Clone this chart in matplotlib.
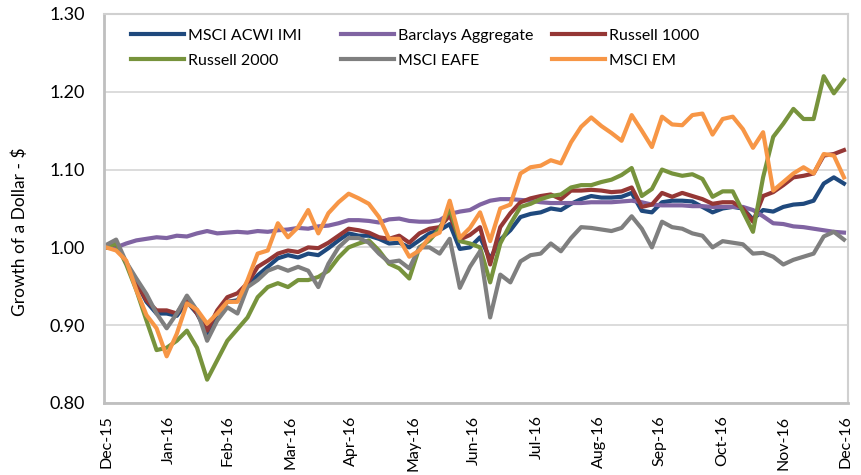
#Growth of a Dollar - indices 2016
import matplotlib
matplotlib.use('Agg')
import matplotlib.pyplot as plt
from matplotlib.legend import Legend
import numpy as np
import pandas as pd

plt.rcParams['font.family'] = ['Lato', 'DejaVu Sans']

#datas (a cada 5 dias, de 31/12/2015 a 30/12/2016)
datas = pd.date_range('2015-12-31', periods=74, freq='5D')

acwi_imi = [1.000, 1.005, 0.980, 0.955, 0.930, 0.915, 0.915, 0.912, 0.930, 0.915,
            0.890, 0.915, 0.930, 0.932, 0.950, 0.964, 0.975, 0.986, 0.990, 0.987,
            0.992, 0.990, 0.999, 1.009, 1.018, 1.015, 1.015, 1.011, 1.005, 1.006,
            1.000, 1.009, 1.018, 1.022, 1.030, 0.998, 1.000, 1.013, 0.985, 1.010,
            1.022, 1.039, 1.043, 1.045, 1.050, 1.048, 1.056, 1.062, 1.066, 1.064,
            1.064, 1.065, 1.070, 1.047, 1.045, 1.058, 1.060, 1.060, 1.059, 1.052,
            1.045, 1.050, 1.052, 1.050, 1.036, 1.048, 1.046, 1.052, 1.055, 1.056,
            1.060, 1.082, 1.090, 1.082]

barclays_agg = [1.000, 1.000, 1.005, 1.009, 1.011, 1.013, 1.012, 1.015, 1.014, 1.018,
                1.021, 1.018, 1.019, 1.020, 1.019, 1.021, 1.020, 1.022, 1.023, 1.025,
                1.024, 1.027, 1.028, 1.031, 1.035, 1.035, 1.034, 1.032, 1.036, 1.037,
                1.034, 1.033, 1.033, 1.035, 1.043, 1.046, 1.048, 1.055, 1.060, 1.062,
                1.062, 1.061, 1.060, 1.058, 1.057, 1.057, 1.057, 1.057, 1.058, 1.058,
                1.058, 1.059, 1.060, 1.058, 1.055, 1.054, 1.054, 1.054, 1.053, 1.053,
                1.052, 1.052, 1.052, 1.052, 1.048, 1.040, 1.031, 1.030, 1.027, 1.026,
                1.024, 1.022, 1.020, 1.019]

russell_1000 = [1.000, 1.005, 0.980, 0.955, 0.932, 0.919, 0.919, 0.915, 0.935, 0.915,
                0.893, 0.919, 0.936, 0.941, 0.954, 0.975, 0.983, 0.992, 0.996, 0.994,
                1.000, 0.999, 1.006, 1.015, 1.024, 1.022, 1.019, 1.013, 1.011, 1.015,
                1.006, 1.018, 1.024, 1.026, 1.041, 1.010, 1.016, 1.026, 0.978, 1.026,
                1.044, 1.058, 1.063, 1.066, 1.068, 1.062, 1.073, 1.073, 1.074, 1.073,
                1.071, 1.072, 1.077, 1.052, 1.055, 1.070, 1.065, 1.070, 1.066, 1.062,
                1.056, 1.058, 1.058, 1.050, 1.033, 1.066, 1.071, 1.080, 1.090, 1.092,
                1.095, 1.118, 1.120, 1.125]

russell_2000 = [1.000, 1.005, 0.978, 0.945, 0.906, 0.868, 0.871, 0.880, 0.893, 0.871,
                0.830, 0.855, 0.880, 0.895, 0.910, 0.936, 0.949, 0.954, 0.949, 0.958,
                0.958, 0.962, 0.970, 0.987, 1.000, 1.005, 1.009, 0.996, 0.979, 0.973,
                0.960, 1.000, 1.009, 1.024, 1.050, 1.008, 1.005, 1.000, 0.955, 1.005,
                1.030, 1.052, 1.056, 1.062, 1.066, 1.068, 1.077, 1.080, 1.080, 1.084,
                1.087, 1.093, 1.102, 1.066, 1.075, 1.100, 1.095, 1.092, 1.094, 1.088,
                1.065, 1.072, 1.072, 1.046, 1.020, 1.090, 1.142, 1.159, 1.178, 1.165,
                1.165, 1.220, 1.198, 1.215]

msci_eafe = [1.003, 1.010, 0.981, 0.960, 0.940, 0.915, 0.896, 0.915, 0.938, 0.919,
             0.880, 0.906, 0.923, 0.915, 0.949, 0.958, 0.970, 0.975, 0.970, 0.975,
             0.970, 0.949, 0.979, 1.000, 1.012, 1.012, 1.006, 0.992, 0.981, 0.983,
             0.973, 1.000, 1.000, 0.992, 1.011, 0.948, 0.975, 0.995, 0.910, 0.965,
             0.955, 0.982, 0.990, 0.992, 1.005, 0.995, 1.012, 1.026, 1.025, 1.023,
             1.021, 1.025, 1.040, 1.024, 1.000, 1.033, 1.026, 1.024, 1.018, 1.015,
             1.000, 1.008, 1.006, 1.004, 0.992, 0.993, 0.988, 0.978, 0.984, 0.988,
             0.992, 1.014, 1.020, 1.010]

msci_em = [1.000, 0.996, 0.983, 0.945, 0.913, 0.896, 0.860, 0.889, 0.928, 0.920,
           0.902, 0.915, 0.930, 0.930, 0.958, 0.992, 0.996, 1.031, 1.013, 1.026,
           1.048, 1.018, 1.044, 1.058, 1.069, 1.063, 1.056, 1.039, 1.011, 1.011,
           0.988, 0.996, 1.013, 1.019, 1.060, 1.012, 1.025, 1.045, 1.008, 1.050,
           1.055, 1.095, 1.103, 1.105, 1.112, 1.108, 1.135, 1.155, 1.167, 1.156,
           1.147, 1.137, 1.170, 1.150, 1.129, 1.168, 1.158, 1.157, 1.170, 1.172,
           1.145, 1.165, 1.168, 1.152, 1.128, 1.148, 1.073, 1.084, 1.095, 1.103,
           1.095, 1.120, 1.118, 1.090]

nomes = ['MSCI ACWI IMI', 'Barclays Aggregate', 'Russell 1000',
         'Russell 2000', 'MSCI EAFE', 'MSCI EM']
series = [acwi_imi, barclays_agg, russell_1000, russell_2000, msci_eafe, msci_em]
cores = ['#1F497D', '#8064A2', '#953735', '#77933C', '#7F7F7F', '#F79646']

fig = plt.figure(figsize=(8.61, 4.75), dpi=100)
ax = fig.add_axes([0.1208, 0.1516, 0.8641, 0.819])

linhas = []
for nome, vals, cor in zip(nomes, series, cores):
    l, = ax.plot(datas, vals, color=cor, lw=3, label=nome, solid_joinstyle='round')
    linhas.append(l)

#eixo y
ax.set_ylim(0.8, 1.3)
yt = np.arange(0.8, 1.31, 0.1)
ax.set_yticks(yt)
ax.set_yticklabels(['%.2f' % v for v in yt], fontsize=13)
ax.yaxis.grid(True, color='#D9D9D9', lw=1.3)
ax.set_axisbelow(True)
ax.set_ylabel('Growth of a Dollar - $', fontsize=12.5)
ax.yaxis.set_label_coords(-0.102, 0.44)

#eixo x - fim de cada mes
ax.set_xlim(pd.Timestamp('2015-12-30'), pd.Timestamp('2017-01-01'))
meses = pd.date_range('2015-12-31', periods=13, freq=pd.offsets.MonthEnd())
ax.set_xticks(meses)
ax.set_xticklabels([m.strftime('%b-%y') for m in meses], rotation=90, fontsize=11.5)

ax.tick_params(length=0)
ax.tick_params(axis='y', pad=14)
ax.tick_params(axis='x', pad=9)

for lado in ['top', 'right']:
    ax.spines[lado].set_color('#D0D0D0')
    ax.spines[lado].set_linewidth(1.5)
for lado in ['left', 'bottom']:
    ax.spines[lado].set_color('#BFBFBF')
    ax.spines[lado].set_linewidth(2)

#legenda em 3 colunas (uma legenda por coluna, desenhada uma vez so)
colunas = [(0.0363, [0, 3]), (0.3185, [1, 4]), (0.602, [2, 5])]
for x0, idx in colunas:
    leg = Legend(ax, [linhas[i] for i in idx], [nomes[i] for i in idx],
                 loc='upper left', bbox_to_anchor=(x0, 0.963), frameon=False,
                 handlelength=3.3, handletextpad=0.25, labelspacing=0.7,
                 borderpad=0, borderaxespad=0, fontsize=11.5)
    ax.add_artist(leg)

plt.savefig('out.png', dpi=100)
